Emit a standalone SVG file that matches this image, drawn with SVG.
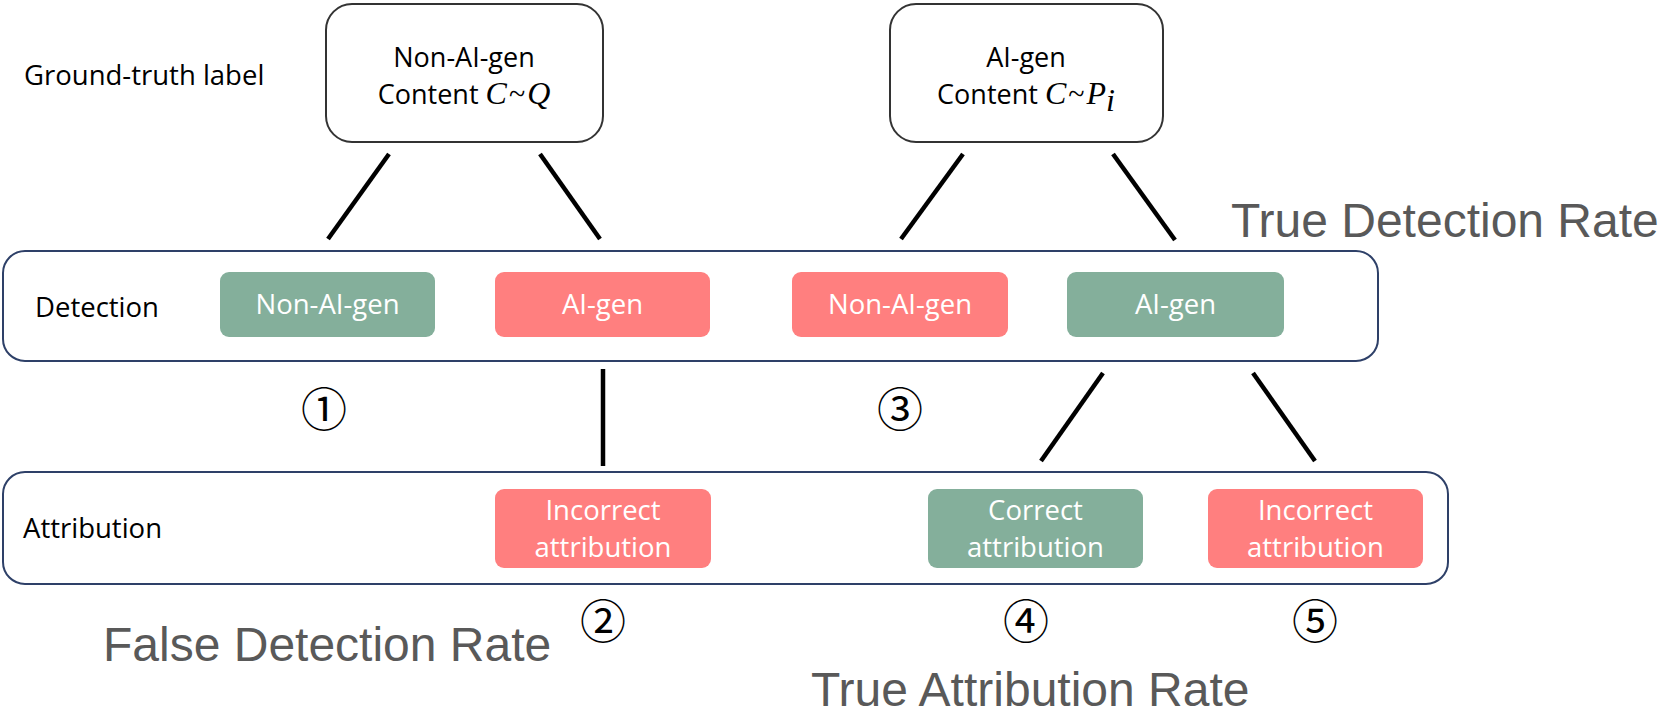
<svg xmlns="http://www.w3.org/2000/svg" width="1664" height="714" viewBox="0 0 1664 714">
<style>
.lbl{font-family:"Open Sans","DejaVu Sans",sans-serif;font-size:27.5px;fill:#000}
.ttl{font-family:"Open Sans","DejaVu Sans",sans-serif;font-size:27px;fill:#000;text-anchor:middle}
.math{font-family:"Liberation Serif","DejaVu Serif",serif;font-style:italic;font-size:32px}
.tl{font-family:"Liberation Serif","DejaVu Serif",serif;font-size:30px}
.box{fill:#fff;stroke:#333;stroke-width:2}
.grp{fill:#fff;stroke:#2E4068;stroke-width:2}
.g{fill:#84AF9B}
.r{fill:#FF7F7F}
.w{font-family:"Open Sans","DejaVu Sans",sans-serif;font-size:27.5px;fill:#fff;text-anchor:middle}
.big{font-family:"Liberation Sans",Arial,sans-serif;font-size:48px;fill:#595959}
.num{font-family:"Noto Sans CJK JP","DejaVu Sans",sans-serif;font-size:46px;font-weight:400;fill:#000;text-anchor:middle}
.conn line{stroke:#000;stroke-width:4.5}
</style>

<g id="ground-truth-label"><text class="lbl" x="24" y="85">Ground-truth label</text></g>

<g id="gt-non-ai">
<rect class="box" x="326" y="4" width="277" height="138" rx="26"/>
<text class="ttl" x="464" y="67">Non-AI-gen</text>
<text class="ttl" x="464" y="104">Content <tspan class="math">C</tspan><tspan class="tl" dx="2">~</tspan><tspan class="math" dx="2">Q</tspan></text>
</g>

<g id="gt-ai">
<rect class="box" x="890" y="4" width="273" height="138" rx="26"/>
<text class="ttl" x="1026" y="67">AI-gen</text>
<text class="ttl" x="1026" y="104">Content <tspan class="math">C</tspan><tspan class="tl" dx="2">~</tspan><tspan class="math" dx="2">P</tspan><tspan class="math" font-size="19" dy="7">i</tspan></text>
</g>

<g id="detection-row">
<rect class="grp" x="3" y="251" width="1375" height="110" rx="22"/>
<text class="lbl" x="35" y="317">Detection</text>
</g>
<g id="det-1"><rect class="g" x="220" y="272" width="215" height="65" rx="9"/><text class="w" x="327.5" y="314">Non-AI-gen</text></g>
<g id="det-2"><rect class="r" x="495" y="272" width="215" height="65" rx="9"/><text class="w" x="602.5" y="314">AI-gen</text></g>
<g id="det-3"><rect class="r" x="792" y="272" width="216" height="65" rx="9"/><text class="w" x="900" y="314">Non-AI-gen</text></g>
<g id="det-4"><rect class="g" x="1067" y="272" width="217" height="65" rx="9"/><text class="w" x="1175.5" y="314">AI-gen</text></g>

<g id="attribution-row">
<rect class="grp" x="3" y="472" width="1445" height="112" rx="22"/>
<text class="lbl" x="23" y="538">Attribution</text>
</g>
<g id="att-1"><rect class="r" x="495" y="489" width="216" height="79" rx="9"/><text class="w" x="603" y="520">Incorrect</text><text class="w" x="603" y="557">attribution</text></g>
<g id="att-2"><rect class="g" x="928" y="489" width="215" height="79" rx="9"/><text class="w" x="1035.5" y="520">Correct</text><text class="w" x="1035.5" y="557">attribution</text></g>
<g id="att-3"><rect class="r" x="1208" y="489" width="215" height="79" rx="9"/><text class="w" x="1315.5" y="520">Incorrect</text><text class="w" x="1315.5" y="557">attribution</text></g>

<g class="conn" id="connectors">
<line x1="389" y1="154" x2="328" y2="239"/>
<line x1="540" y1="154" x2="600" y2="239"/>
<line x1="963" y1="154" x2="901" y2="239"/>
<line x1="1113" y1="154" x2="1175" y2="240"/>
<line x1="603" y1="369" x2="603" y2="466"/>
<line x1="1103" y1="373" x2="1041" y2="461"/>
<line x1="1253" y1="373" x2="1315" y2="461"/>
</g>

<g id="n1"><text class="num" x="324" y="426">①</text></g>
<g id="n2"><text class="num" x="603" y="638">②</text></g>
<g id="n3"><text class="num" x="900" y="426">③</text></g>
<g id="n4"><text class="num" x="1026" y="638">④</text></g>
<g id="n5"><text class="num" x="1315" y="638">⑤</text></g>

<g id="true-detection-rate"><text class="big" x="1231" y="237">True Detection Rate</text></g>
<g id="false-detection-rate"><text class="big" x="103" y="661">False Detection Rate</text></g>
<g id="true-attribution-rate"><text class="big" x="811" y="706">True Attribution Rate</text></g>
</svg>
